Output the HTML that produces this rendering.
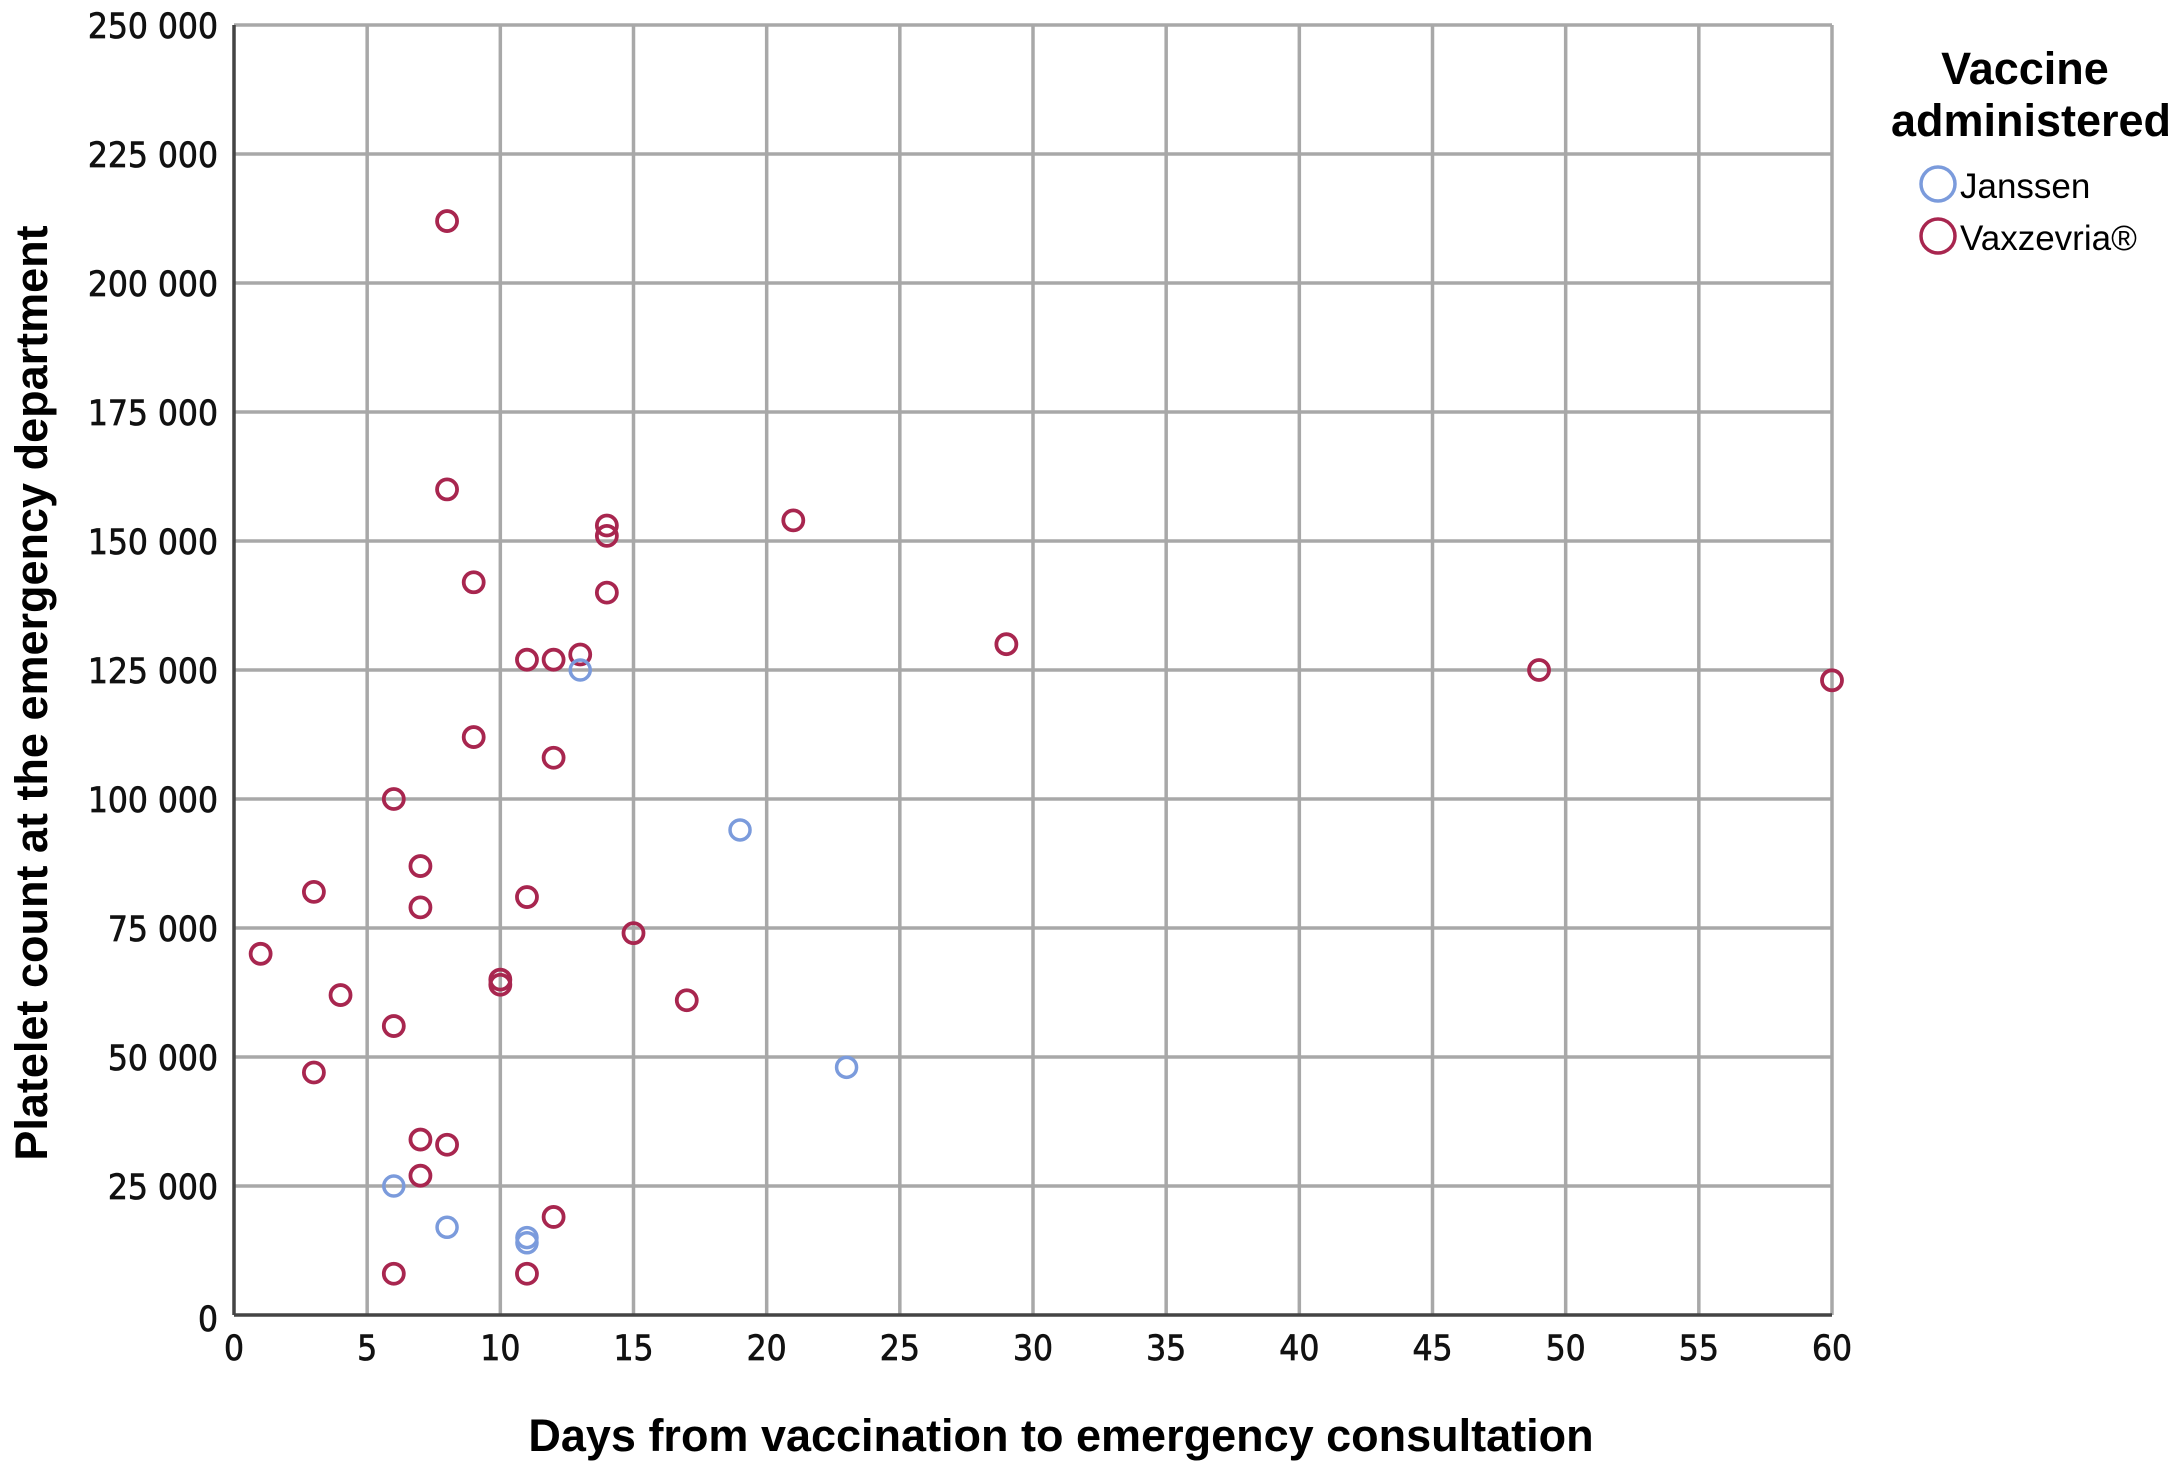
<!DOCTYPE html>
<html><head><meta charset="utf-8"><style>
body{margin:0;background:#fff}
svg{display:block}
.t{font-family:"DejaVu Sans Condensed","Liberation Sans",sans-serif;font-size:35px;fill:#111;stroke:#111;stroke-width:0.7}
.ti{font-family:"Liberation Sans",sans-serif;font-weight:bold;font-size:45px;fill:#000}
</style></head><body>
<svg id="chart" width="2175" height="1470" viewBox="0 0 2175 1470" xmlns="http://www.w3.org/2000/svg">
<g id="grid"></g>
<g id="axes"></g>
<g id="pts"></g>
<text class="ti" x="1061" y="1451" text-anchor="middle">Days from vaccination to emergency consultation</text>
<text class="ti" transform="translate(47,693) rotate(-90)" text-anchor="middle">Platelet count at the emergency department</text>
<g>
<text class="ti" x="2025" y="84" text-anchor="middle">Vaccine</text>
<text class="ti" x="2031" y="136" text-anchor="middle">administered</text>
<g><circle cx="1938" cy="184" r="17" fill="none" stroke="#7b9bdc" stroke-width="3.5"/><text x="1960" y="198" style="font-family:'Liberation Sans',sans-serif;font-size:35px">Janssen</text></g>
<g><circle cx="1938" cy="236" r="17" fill="none" stroke="#a8264f" stroke-width="3.5"/><text x="1960" y="250" style="font-family:'Liberation Sans',sans-serif;font-size:35px">Vaxzevria®</text></g>
</g>
</svg>
<script>
const xTicks=[0,5,10,15,20,25,30,35,40,45,50,55,60];
const yTicks=[0,25000,50000,75000,100000,125000,150000,175000,200000,225000,250000];
const yTickLabels=["0","25 000","50 000","75 000","100 000","125 000","150 000","175 000","200 000","225 000","250 000"];
const janssenDays=[6,8,11,11,13,19,23];
const janssenPlatelets=[25000,17000,15000,14000,125000,94000,48000];
const vaxDays=[1,3,3,4,6,6,6,7,7,7,7,8,8,8,9,9,10,10,11,11,11,12,12,12,13,14,14,14,15,17,21,29,49,60];
const vaxPlatelets=[70000,82000,47000,62000,100000,56000,8000,87000,79000,34000,27000,212000,160000,33000,142000,112000,65000,64000,127000,81000,8000,127000,108000,19000,128000,153000,151000,140000,74000,61000,154000,130000,125000,123000];
const X0=234,X1=1832,Y0=1315,Y1=25;
const sx=v=>X0+(v-0)/60*(X1-X0);
const sy=v=>Y0-(v/250000)*(Y0-Y1);
const NS="http://www.w3.org/2000/svg";
function mk(tag,attrs,parent){const e=document.createElementNS(NS,tag);for(const k in attrs)e.setAttribute(k,attrs[k]);parent.appendChild(e);return e;}
const grid=document.getElementById('grid'),axes=document.getElementById('axes'),pts=document.getElementById('pts');
xTicks.forEach(t=>{
 if(t>0){const l=mk('line',{x1:sx(t),x2:sx(t),y1:Y1,y2:Y0,stroke:'#a8a8a8','stroke-width':3.5},grid);
 
 }
 const tx=mk('text',{x:sx(t),y:Y0+45,'text-anchor':'middle',class:'t'},axes);tx.textContent=t;
 
 
});
yTicks.forEach((t,i)=>{
 if(t>0){const l=mk('line',{x1:X0,x2:X1,y1:sy(t),y2:sy(t),stroke:'#a8a8a8','stroke-width':3.5},grid);
 
 }
 const tx=mk('text',{x:218,y:sy(t)+(t===0?16:13),'text-anchor':'end',class:'t'},axes);tx.textContent=yTickLabels[i];
 
 
});
const ax=mk('line',{x1:X0,x2:X0,y1:Y1,y2:Y0,stroke:'#444','stroke-width':3.5},axes);


const ay=mk('line',{x1:X0,x2:X1,y1:Y0,y2:Y0,stroke:'#444','stroke-width':3.5},axes);


vaxDays.forEach((d,i)=>{const c=mk('circle',{cx:sx(d),cy:sy(vaxPlatelets[i]),r:10,fill:'none',stroke:'#a8264f','stroke-width':3.8},pts);
 
 });
janssenDays.forEach((d,i)=>{const c=mk('circle',{cx:sx(d),cy:sy(janssenPlatelets[i]),r:10,fill:'none',stroke:'#7b9bdc','stroke-width':3.5},pts);
 
 });
</script>
</body></html>
